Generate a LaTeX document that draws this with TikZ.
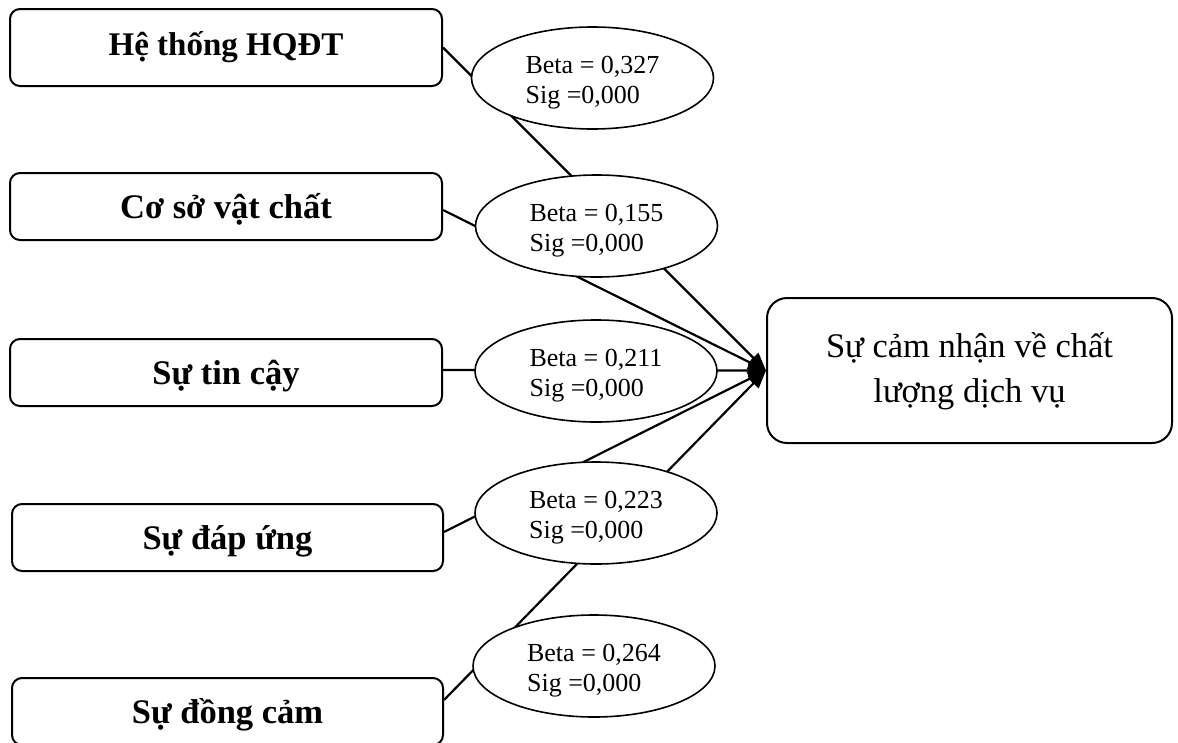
\documentclass[tikz,border=0pt]{standalone}
\usepackage{fontspec}
\setmainfont{Liberation Serif}
\usetikzlibrary{shapes.geometric,arrows.meta,backgrounds}
\newcommand\betasig[1]{\begin{tabular}[t]{@{}l@{}}Beta = #1\\Sig =0,000\end{tabular}}
\begin{document}
\begin{tikzpicture}[x=1pt,y=-1pt,
  lbox/.style={draw,line width=2pt,rounded corners=10pt,minimum width=432pt,
    minimum height=67pt,inner sep=0pt,font=\fontsize{34.5}{40}\selectfont\bfseries,
    text height=32pt,text depth=8pt},
  rbox/.style={draw,line width=2pt,rounded corners=20pt,minimum width=405pt,
    minimum height=145pt,inner sep=0pt,font=\fontsize{34.5}{45}\selectfont,
    text height=26pt,text depth=53pt},
  ell/.style={draw,ellipse,fill=white,line width=1.6pt,minimum width=242pt,
    minimum height=102pt,inner sep=0pt,font=\fontsize{26}{30}\selectfont,
    text height=20pt,text depth=30pt},
  conn/.style={line width=2.2pt,-{Triangle[length=18pt,width=14pt]}}]
\useasboundingbox (0,0) rectangle (1178,742);
% left boxes
\node[lbox,minimum height=77pt,font=\fontsize{33}{40}\selectfont\bfseries,
  text height=27pt,text depth=12pt] (b1) at (226,47.5) {Hệ thống HQĐT};
\node[lbox] (b2) at (226,206.5) {Cơ sở vật chất};
\node[lbox] (b3) at (226,372.5) {Sự tin cậy};
\node[lbox,minimum width=431pt] (b4) at (227.5,537.5) {Sự đáp ứng};
\node[lbox,minimum width=431pt] (b5) at (227.5,711.5) {Sự đồng cảm};
% right box
\node[rbox] (rb) at (969.5,370.5) {\begin{tabular}[t]{@{}c@{}}Sự cảm nhận về chất\\lượng dịch vụ\end{tabular}};
% ellipses
\node[ell] (e1) at (592.5,78) {\betasig{0,327}};
\node[ell] (e2) at (596.5,226) {\betasig{0,155}};
\node[ell] (e3) at (596,371) {\betasig{0,211}};
\node[ell] (e4) at (596,513) {\betasig{0,223}};
\node[ell] (e5) at (594,666) {\betasig{0,264}};
% connectors
\begin{pgfonlayer}{background}
\draw[conn] (b1.east) -- (rb.west);
\draw[conn] ([yshift=-3.5pt]b2.east) -- (rb.west);
\draw[conn] ([yshift=2.5pt]b3.east) -- (rb.west);
\draw[conn] ([yshift=5.5pt]b4.east) -- (rb.west);
\draw[conn] ([yshift=11.5pt]b5.east) -- (rb.west);
\end{pgfonlayer}
\end{tikzpicture}
\end{document}
